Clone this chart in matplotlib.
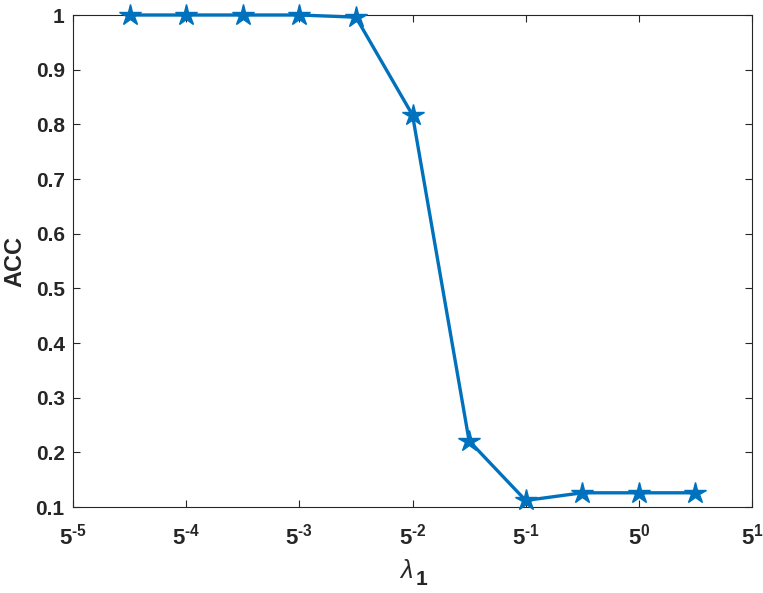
import matplotlib
matplotlib.use('Agg')
import matplotlib.pyplot as plt
import numpy as np

plt.rcParams['font.family'] = 'Liberation Sans'
plt.rcParams['font.weight'] = 'bold'
plt.rcParams['mathtext.fontset'] = 'custom'
plt.rcParams['mathtext.rm'] = 'Liberation Sans:bold'
plt.rcParams['mathtext.bf'] = 'Liberation Sans:bold'
plt.rcParams['mathtext.it'] = 'Liberation Sans:style=italic:weight=normal'

# exponents of lambda_1 (base 5) and accuracy
exps = [-4.5, -4, -3.5, -3, -2.5, -2, -1.5, -1, -0.5, 0, 0.5]
acc = [1.0, 1.0, 1.0, 1.0, 0.996, 0.817, 0.221, 0.112, 0.126, 0.126, 0.126]
xtick_exps = [-5, -4, -3, -2, -1, 0, 1]
yticks = [0.1, 0.2, 0.3, 0.4, 0.5, 0.6, 0.7, 0.8, 0.9, 1]

lam = 5.0 ** np.array(exps)

fig = plt.figure(figsize=(7.63, 5.93), dpi=100)
ax = fig.add_axes([0.0957, 0.145, 0.8899, 0.8297])
ax.plot(lam, acc, color='#0072BD', lw=2.4, marker='*', ms=16, clip_on=False, zorder=5)
ax.set_xscale('log', base=5)
ax.set_xlim(5.0 ** -5, 5.0 ** 1)
ax.set_ylim(0.1, 1)
ax.set_xticks([5.0 ** e for e in xtick_exps])
ax.set_xticklabels(['$5^{\\text{%d}}$' % e for e in xtick_exps])
ax.xaxis.set_minor_locator(matplotlib.ticker.NullLocator())
ax.set_yticks(yticks)
ax.set_yticklabels(['1' if v == 1 else '%.1f' % v for v in yticks])
ax.tick_params(direction='in', top=True, right=True, labelsize=15, length=5,
               width=0.8, colors='#262626', pad=6)
ax.tick_params(axis='x', labelsize=16, pad=12)
for s in ax.spines.values():
    s.set_color('#262626')
    s.set_linewidth(0.8)
# lambda with a large, low subscript as in the original
ax.set_xlabel('$\\lambda$', fontsize=18, color='#262626')
ax.xaxis.set_label_coords(0.490, -0.106)
fig.text(0.545, 0.014, '1', fontsize=15, fontweight='bold', color='#262626',
         ha='left', va='baseline')
ax.set_ylabel('ACC', fontsize=17, fontweight='bold', color='#262626')
ax.yaxis.set_label_coords(-0.068, 0.5)
fig.savefig('out.png', dpi=100)
